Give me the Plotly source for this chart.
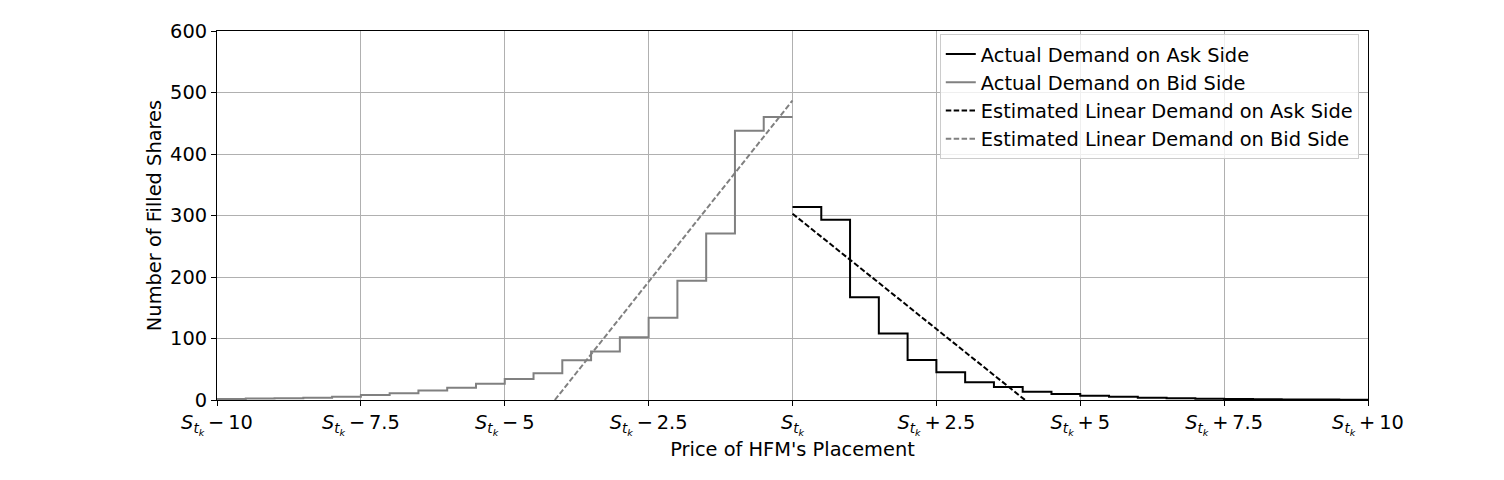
import plotly.graph_objects as go

# ---- data ----
bid_edges = [-10, -9.5, -9, -8.5, -8, -7.5, -7, -6.5, -6, -5.5, -5, -4.5, -4, -3.5, -3, -2.5, -2, -1.5, -1, -0.5, 0]
bid_values = [1.6, 2.5, 3.0, 3.8, 5.4, 8, 10.8, 15.6, 20, 26.4, 34, 43.6, 64.5, 78.7, 101.9, 133.7, 194, 270.6, 438, 460]

ask_edges = [0, 0.5, 1, 1.5, 2, 2.5, 3, 3.5, 4, 4.5, 5, 5.5, 6, 6.5, 7, 7.5, 8, 8.5, 9, 9.5, 10]
ask_values = [314, 293, 167, 108, 65, 45, 29, 21, 13.5, 9.7, 7, 5.4, 3.8, 2.7, 2.2, 1.6, 1.2, 1.0, 0.8, 0.6]

ask_est_x = [0, 4.04]
ask_est_y = [303, 0]
bid_est_x = [-4.13, 0]
bid_est_y = [0, 487]

tick_vals = [-10, -7.5, -5, -2.5, 0, 2.5, 5, 7.5, 10]
tick_suffix = ["\u2009−\u200910", "\u2009−\u20097.5", "\u2009−\u20095", "\u2009−\u20092.5", "",
               "\u2009+\u20092.5", "\u2009+\u20095", "\u2009+\u20097.5", "\u2009+\u200910"]
y_ticks = [0, 100, 200, 300, 400, 500, 600]

S = "<i>S</i><sub><i>t</i><sub><i>k</i></sub></sub>"
tick_text = [S + s for s in tick_suffix]

FONT = "DejaVu Sans"
FS = 19.4

fig = go.Figure()
fig.add_trace(go.Scatter(x=ask_edges, y=ask_values + [ask_values[-1]], mode="lines",
                         line=dict(color="black", width=2, shape="hv"),
                         name="Actual Demand on Ask Side"))
fig.add_trace(go.Scatter(x=bid_edges, y=bid_values + [bid_values[-1]], mode="lines",
                         line=dict(color="#808080", width=2, shape="hv"),
                         name="Actual Demand on Bid Side"))
fig.add_trace(go.Scatter(x=ask_est_x, y=ask_est_y, mode="lines",
                         line=dict(color="black", width=2, dash="5.5px,2.4px"),
                         name="Estimated Linear Demand on Ask Side"))
fig.add_trace(go.Scatter(x=bid_est_x, y=bid_est_y, mode="lines",
                         line=dict(color="#808080", width=2, dash="5.5px,2.4px"),
                         name="Estimated Linear Demand on Bid Side"))

fig.update_layout(
    width=1504, height=480,
    margin=dict(l=209, r=144, t=19, b=88),
    paper_bgcolor="white", plot_bgcolor="white",
    font=dict(family=FONT, size=FS, color="black"),
    showlegend=True,
    legend=dict(x=0.992, y=0.992, xanchor="right", yanchor="top",
                bgcolor="rgba(255,255,255,0.8)", bordercolor="#cccccc", borderwidth=1,
                font=dict(family=FONT, size=FS), tracegroupgap=0),
)
fig.update_xaxes(range=[-10, 10], tickvals=tick_vals, ticktext=tick_text,
                 showgrid=True, gridcolor="#b0b0b0", gridwidth=1,
                 showline=True, linecolor="black", linewidth=1, mirror=True,
                 ticks="outside", ticklen=5, tickcolor="black", zeroline=False,
                 title=dict(text="Price of HFM's Placement", standoff=4, font=dict(size=FS)))
fig.update_yaxes(range=[0, 600], tickvals=y_ticks,
                 showgrid=True, gridcolor="#b0b0b0", gridwidth=1,
                 showline=True, linecolor="black", linewidth=1, mirror=True,
                 ticks="outside", ticklen=5, tickcolor="black", zeroline=False,
                 title=dict(text="Number of Filled Shares", standoff=3, font=dict(size=FS)))

fig.write_html("out.html")
